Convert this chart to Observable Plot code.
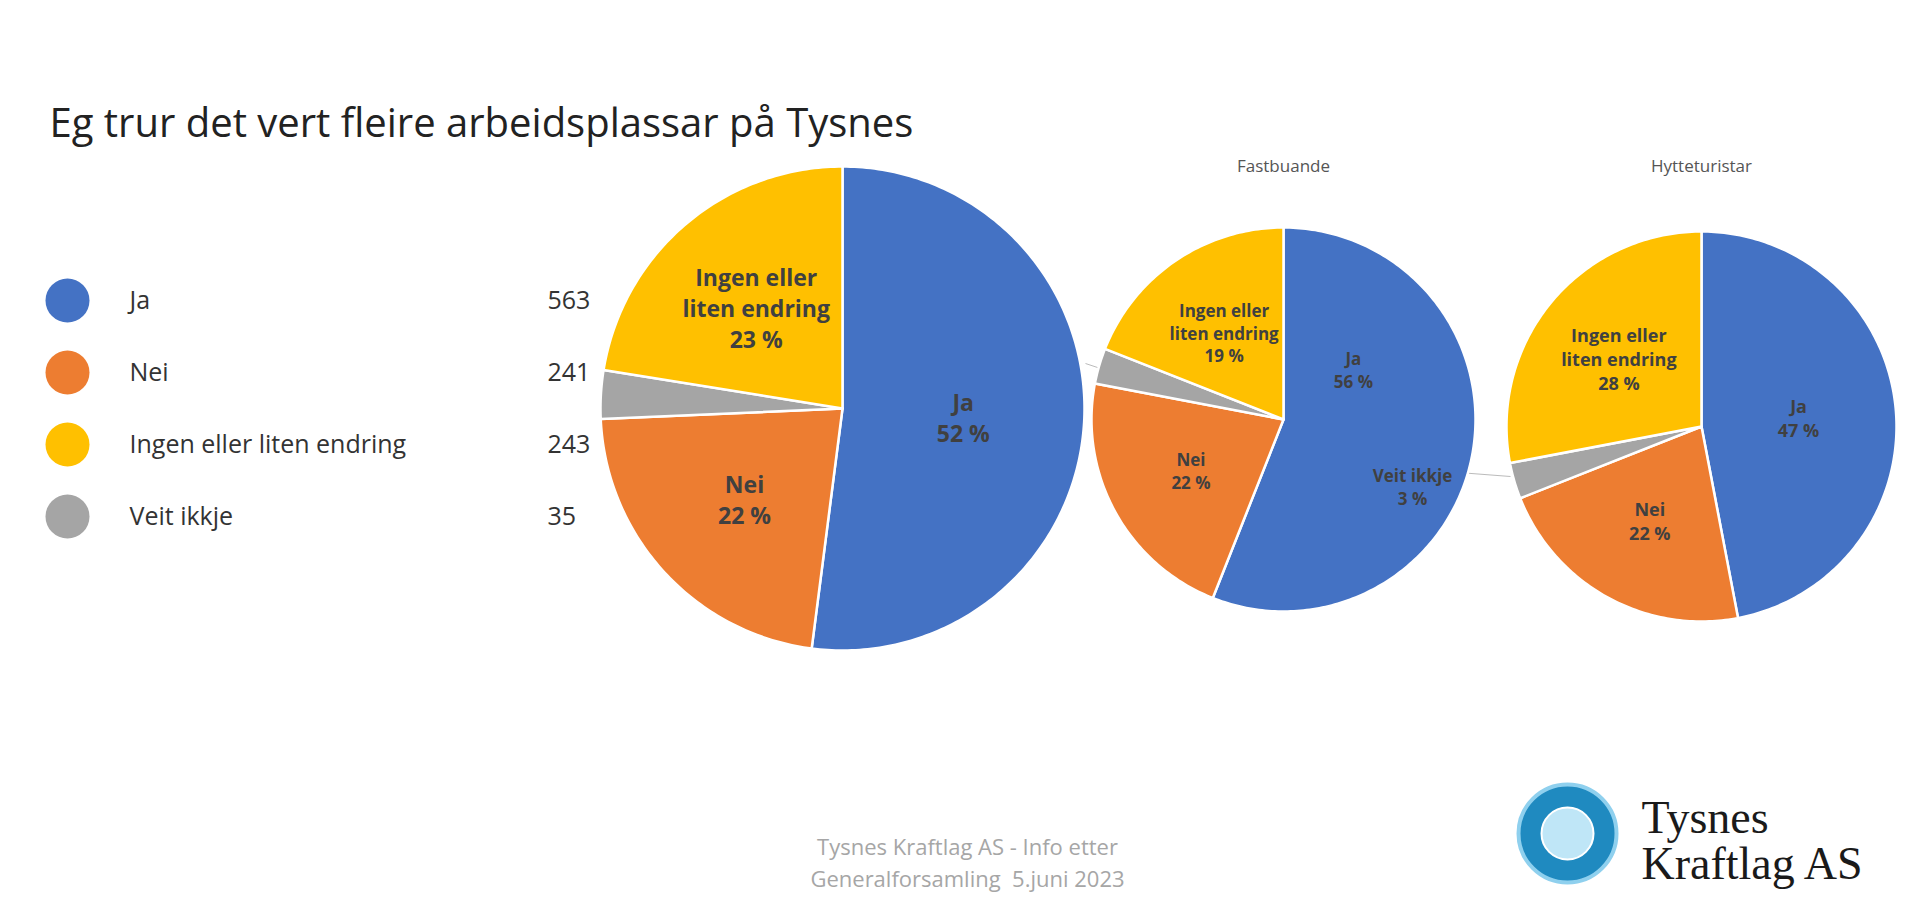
<!DOCTYPE html>
<html><head><meta charset="utf-8">
<script src="https://cdn.jsdelivr.net/npm/d3@7"></script>
<script src="https://cdn.jsdelivr.net/npm/@observablehq/plot@0.6"></script>
<style>body{margin:0;background:#fff;font-family:"Open Sans",sans-serif}</style>
</head><body><div id="c"></div>
<script>
const categories = ["Ja","Nei","Veit ikkje","Ingen eller liten endring"];
const colors = ["#4472c4","#ed7d31","#a5a5a5","#ffc000"];
const legendOrder = ["Ja","Nei","Ingen eller liten endring","Veit ikkje"];
const legendCounts = [563,241,243,35];
const allValues = [563,241,35,243];
const allPct = [52,22,3,23];
const fastValues = [56,22,3,19];
const hytteValues = [47,22,3,28];
const pieTitles = ["","Fastbuande","Hytteturistar"];

const pies = [
  {vals: allValues, pct: allPct, cx: 842, cy: 408, r: 242, fs: 23, lr: [0.5,0.55,0,0.55]},
  {vals: fastValues, pct: fastValues, cx: 1283, cy: 419, r: 192, fs: 17, lr: [0.5,0.55,0,0.55]},
  {vals: hytteValues, pct: hytteValues, cx: 1701, cy: 426, r: 195, fs: 18, lr: [0.5,0.55,0,0.55]}
];
const labelText = {"Ja":"Ja","Nei":"Nei","Veit ikkje":"Veit ikkje","Ingen eller liten endring":"Ingen eller\nliten endring"};

const slicePts = [], labels = [];
pies.forEach((p, pi) => {
  const total = d3.sum(p.vals);
  let acc = 0;
  p.vals.forEach((v, i) => {
    const a0 = acc / total * 2 * Math.PI, a1 = (acc + v) / total * 2 * Math.PI;
    acc += v;
    const id = pi + "-" + i;
    slicePts.push({id, cat: categories[i], x: p.cx, y: p.cy});
    const n = Math.max(2, Math.ceil((a1 - a0) * 60));
    for (let k = 0; k <= n; k++) {
      const a = a0 + (a1 - a0) * k / n;
      slicePts.push({id, cat: categories[i], x: p.cx + p.r * Math.sin(a), y: p.cy - p.r * Math.cos(a)});
    }
    slicePts.push({id, cat: categories[i], x: p.cx, y: p.cy});
    const pct = p.pct[i] + " %";
    if (p.lr[i] > 0) {
      let am = (a0 + a1) / 2, rr = p.r * p.lr[i];
      if (pi === 1 && i === 0) { am = Math.PI * 0.3; rr = p.r * 0.45; }
      labels.push({x: p.cx + rr * Math.sin(am), y: p.cy - rr * Math.cos(am), text: labelText[categories[i]] + "\n" + pct, fs: p.fs});
    }
  });
});
// Veit ikkje label for Fastbuande (placed to the right with leader)
labels.push({x: 1412, y: 486, text: "Veit ikkje\n" + fastValues[2] + " %", fs: 17});

const legend = legendOrder.map((c, i) => ({c, n: legendCounts[i], y: 300 + i * 72, col: colors[categories.indexOf(c)]}));

const W = 1920, H = 911;
const chart = Plot.plot({
  width: W, height: H, margin: 0,
  x: {domain: [0, W], range: [0, W], axis: null},
  y: {domain: [0, H], range: [0, H], axis: null},
  color: {domain: categories, range: colors},
  style: {fontFamily: "'Open Sans', sans-serif", background: "#fff"},
  marks: [
    Plot.text(["Eg trur det vert fleire arbeidsplassar på Tysnes"], {x: 49, y: 124, text: d => d, textAnchor: "start", fontSize: 40, fill: "#222", fontFamily: "'Open Sans', sans-serif"}),
    Plot.dot(legend, {x: 67, y: "y", r: 22, fill: "col"}),
    Plot.text(legend, {x: 129, y: "y", text: "c", textAnchor: "start", fontSize: 25, fill: "#333"}),
    Plot.text(legend, {x: 547, y: "y", text: d => String(d.n), textAnchor: "start", fontSize: 25, fill: "#333"}),
    Plot.link([{x1: 1085, y1: 363, x2: 1100, y2: 368}, {x1: 1458, y1: 472, x2: 1510, y2: 476}], {x1: "x1", y1: "y1", x2: "x2", y2: "y2", stroke: "#bbb", strokeWidth: 1}),
    Plot.line(slicePts, {x: "x", y: "y", z: "id", fill: "cat", stroke: "#fff", strokeWidth: 2.5, strokeLinejoin: "round"}),
    Plot.text(labels, {x: "x", y: "y", text: "text", fontSize: "fs", fontWeight: "bold", fill: "#404040", lineHeight: 1.35}),
    Plot.text([{t: pieTitles[1], x: 1283}, {t: pieTitles[2], x: 1701}], {x: "x", y: 166, text: "t", fontSize: 17, fill: "#555"}),
    Plot.text(["Tysnes Kraftlag AS - Info etter", "Generalforsamling  5.juni 2023"], {x: 967, y: (d, i) => 847 + i * 32, text: d => d, fontSize: 22, fill: "#a6a6a6"}),
    Plot.dot([0], {x: 1567, y: 833, r: 49, fill: "#1f8ac0", stroke: "#8fd0ee", strokeWidth: 4}),
    Plot.dot([0], {x: 1567, y: 833, r: 26, fill: "#bfe6f7", stroke: "#fff", strokeWidth: 2}),
    Plot.text(["Tysnes", "Kraftlag AS"], {x: 1641, y: (d, i) => 818 + i * 46, text: d => d, textAnchor: "start", fontSize: 46, fill: "#1a1a1a", fontFamily: "'Liberation Serif', 'DejaVu Serif', serif"})
  ]
});
document.getElementById("c").appendChild(chart);
</script></body></html>
